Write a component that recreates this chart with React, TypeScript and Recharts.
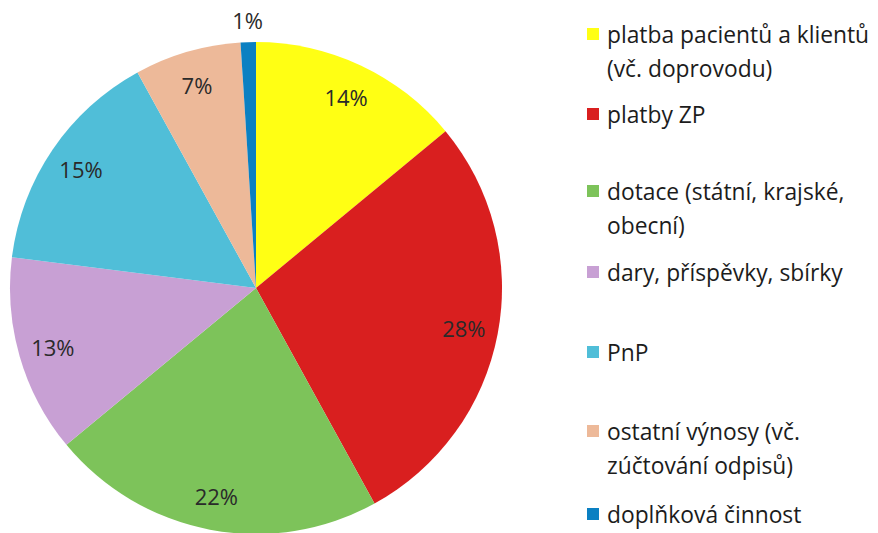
import React from "react";
import { PieChart, Pie, Cell, Legend } from "recharts";

const categories = [
  "platba pacientů a klientů\n(vč. doprovodu)",
  "platby ZP",
  "dotace (státní, krajské,\nobecní)",
  "dary, příspěvky, sbírky",
  "PnP",
  "ostatní výnosy (vč.\nzúčtování odpisů)",
  "doplňková činnost",
];
const values = [14, 28, 22, 13, 15, 7, 1];
const colors = ["#FFFF14", "#D91F1F", "#7DC35A", "#C8A0D4", "#50BED8", "#EDB999", "#0B80C2"];

const data = categories.map((name, i) => ({ name, value: values[i] }));

const legendTops = [35, 115, 192, 273, 353, 432, 515];
const FONT = "'Open Sans', sans-serif";
const RAD = Math.PI / 180;

const renderLabel = (props: any) => {
  const { cx, cy, midAngle, outerRadius, percent, value } = props;
  const r = percent < 0.02 ? outerRadius + 22 : outerRadius * 0.86;
  const x = cx + r * Math.cos(-midAngle * RAD);
  const y = cy + r * Math.sin(-midAngle * RAD);
  return (
    <text
      x={x}
      y={y}
      textAnchor="middle"
      dominantBaseline="central"
      fill="#2a2a2a"
      fontSize={22}
      fontFamily={FONT}
    >
      {`${value}%`}
    </text>
  );
};

const LegendContent = (props: any) => {
  const payload = [...(props.payload || [])].sort(
    (a: any, b: any) => categories.indexOf(a.value) - categories.indexOf(b.value)
  );
  return (
    <div style={{ position: "relative", width: 878, height: 533 }}>
      {payload.map((p: any) => {
        const i = categories.indexOf(p.value);
        return (
          <div
            key={i}
            style={{
              position: "absolute",
              left: 607,
              top: legendTops[i] - 17,
              fontFamily: FONT,
              fontSize: 22.8,
              lineHeight: "34px",
              color: "#1c1c1c",
              whiteSpace: "pre",
            }}
          >
            <span
              style={{
                position: "absolute",
                left: -20,
                top: 10,
                width: 12,
                height: 12,
                background: colors[i],
              }}
            />
            {p.value}
          </div>
        );
      })}
    </div>
  );
};

export default function App() {
  return (
    <div style={{ position: "absolute", left: 0, top: 0, background: "#fff" }}>
      <PieChart width={878} height={533} margin={{ top: 0, right: 0, bottom: 0, left: 0 }}>
        <Pie
          data={data}
          dataKey="value"
          nameKey="name"
          cx={256}
          cy={288}
          outerRadius={246}
          startAngle={90}
          endAngle={-270}
          stroke="none"
          label={renderLabel}
          labelLine={false}
          isAnimationActive={false}
        >
          {data.map((_, i) => (
            <Cell key={i} fill={colors[i]} />
          ))}
        </Pie>
        <Legend
          content={<LegendContent />}
          wrapperStyle={{ left: 0, top: 0, width: 878, height: 533 }}
        />
      </PieChart>
    </div>
  );
}
